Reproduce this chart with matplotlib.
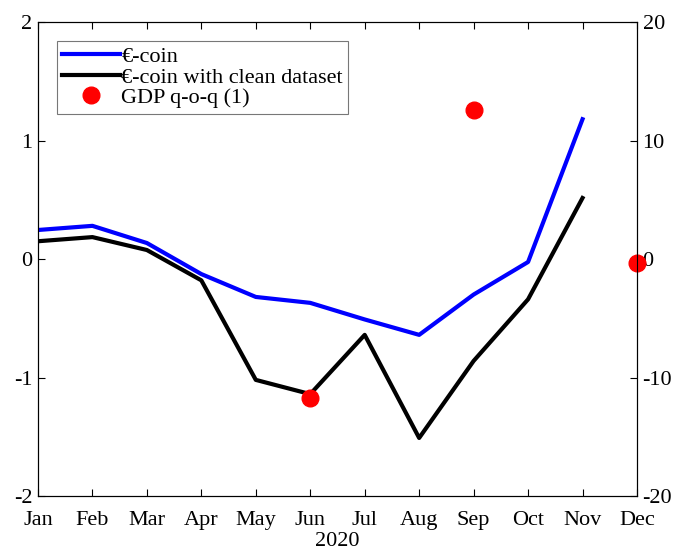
import numpy as np
import matplotlib
matplotlib.use("Agg")
from matplotlib import pyplot as plt

plt.rcParams['font.family'] = ['Liberation Serif', 'DejaVu Serif']
plt.rcParams['axes.unicode_minus'] = False

# Dati
months = ["Jan", "Feb", "Mar", "Apr", "May", "Jun", "Jul", "Aug", "Sep", "Oct", "Nov", "Dec"]
ecoin = [0.245, 0.28, 0.135, -0.127, -0.32, -0.37, -0.51, -0.64, -0.30, -0.025, 1.18]
ecoin_clean = [0.15, 0.185, 0.076, -0.18, -1.02, -1.14, -0.64, -1.51, -0.86, -0.34, 0.515]
gdp_months = [5, 8, 11]
gdp_qoq = [-11.7, 12.6, -0.3]

x = np.arange(len(months))

fig = plt.figure(figsize=(6.78, 5.51), dpi=100)
ax = fig.add_axes([0.056, 0.0998, 0.8835, 0.8602])
ax2 = ax.twinx()

l1, = ax.plot(x[:len(ecoin)], ecoin, color="#0000ff", lw=3, label="€-coin")
l2, = ax.plot(x[:len(ecoin_clean)], ecoin_clean, color="black", lw=3, label="€-coin with clean dataset")
p1, = ax2.plot(gdp_months, gdp_qoq, "o", color="red", ms=12, label="GDP q-o-q (1)", clip_on=False)

ax.set_xlim(0, 11)
ax.set_ylim(-2, 2)
ax2.set_ylim(-20, 20)
ax.set_yticks([-2, -1, 0, 1, 2])
ax2.set_yticks([-20, -10, 0, 10, 20])
ax.set_xticks(x)
ax.set_xticklabels(months)
ax.set_xlabel("2020", fontsize=16, labelpad=1)

for a in (ax, ax2):
    a.tick_params(direction="in", labelsize=16, length=5, width=0.8, pad=4)
    for s in a.spines.values():
        s.set_linewidth(0.8)
ax.tick_params(axis="x", top=True, pad=11)

leg = ax.legend(handles=[l1, l2, p1], loc="upper left", fontsize=16, frameon=True,
                fancybox=False, edgecolor="#555555", handlelength=2.6, handletextpad=0.05,
                borderpad=0.25, labelspacing=0.0, borderaxespad=0.85)
leg.get_frame().set_linewidth(0.8)

plt.savefig("out.png", dpi=100)
